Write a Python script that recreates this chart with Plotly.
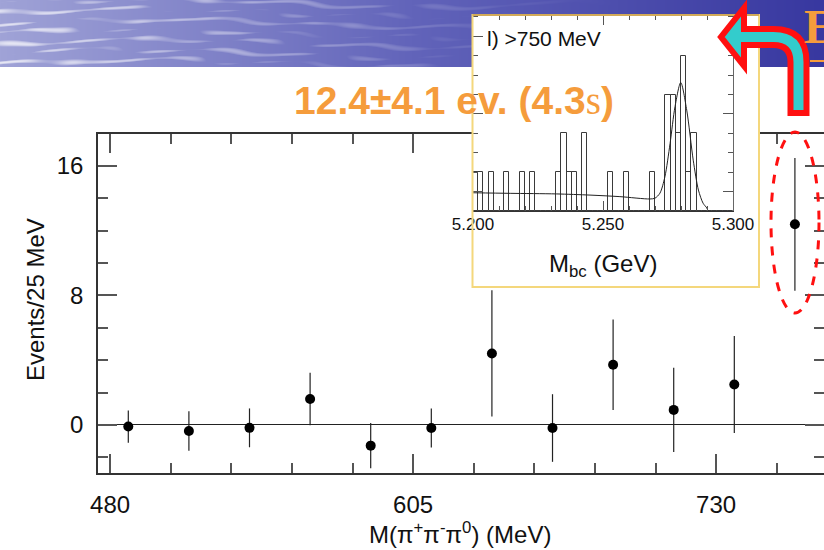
import zlib
import struct
import base64
import numpy as np
import plotly.graph_objects as go

W, H = 824, 550

# ---- main spectrum: signal yield per 25 MeV bin of M(pi+ pi- pi0) ----
mass_centers = [487.5, 512.5, 537.5, 562.5, 587.5, 612.5,
                637.5, 662.5, 687.5, 712.5, 737.5, 762.5]
events = [-0.10, -0.37, -0.18, 1.60, -1.28, -0.19,
          4.42, -0.19, 3.72, 0.93, 2.50, 12.4]
event_errors = [1.00, 1.22, 1.20, 1.62, 1.40, 1.20,
                3.90, 2.09, 2.80, 2.60, 3.00, 4.10]

x_major_ticks = [480, 605, 730]
y_major_ticks = [0, 8, 16]

# ---- inset: Mbc histogram (2 MeV bins from 5.200 GeV) for M > 750 MeV ----
mbc_bin_lo = 5.200
mbc_bin_width = 0.002
mbc_counts = [1, 1, 0, 1, 0, 0, 1, 0, 0, 1,
              0, 1, 0, 0, 0, 0, 1, 2, 1, 1,
              0, 2, 0, 0, 0, 0, 1, 0, 0, 1,
              0, 0, 0, 0, 1, 0, 0, 3, 3, 2,
              4, 1, 2, 0, 0, 0, 0, 0, 0, 0]
mbc_centers = [mbc_bin_lo + mbc_bin_width * (i + 0.5) for i in range(len(mbc_counts))]

# fitted curve (background + signal peak)
fit_mbc = [5.2000, 5.2143, 5.2320, 5.2450, 5.2565, 5.2680, 5.2700, 5.2719,
           5.2738, 5.2758, 5.2777, 5.2799, 5.2822, 5.2847, 5.2867, 5.2885,
           5.2899, 5.2904]
fit_val = [0.47, 0.455, 0.44, 0.41, 0.37, 0.31, 0.33, 0.46,
           0.88, 1.74, 2.69, 3.31, 2.60, 1.31, 0.54, 0.20,
           0.08, 0.00]

inset_ticks = [5.200, 5.250, 5.300]
inset_tick_text = ["5.200", "5.250", "5.300"]


def px(x):
    return x / W


def py(y):
    return 1 - y / H


# ---- slide header band ----
def header_png(w, h):
    xs = np.arange(w)[None, :].astype(float)
    ys = np.arange(h)[:, None].astype(float)
    t = xs / (w - 1)
    left = np.array([160, 163, 215.0])
    mid = np.array([98, 100, 186.0])
    right = np.array([56, 56, 160.0])
    a = np.clip(t / 0.5, 0, 1)[..., None]
    b = np.clip((t - 0.5) / 0.5, 0, 1)[..., None]
    col = left * (1 - a) + mid * a
    col = col * (1 - b) + right * b
    col = np.broadcast_to(col, (h, w, 3)).copy()
    wave = np.sin(0.62 * ys + 2.4 * np.sin(0.011 * xs) + 1.3 * np.sin(0.047 * xs + 0.21 * ys))
    wave2 = np.sin(0.35 * ys - 1.9 * np.sin(0.017 * xs + 1.0) + 0.9 * np.sin(0.09 * xs))
    streak = np.clip((wave + 0.6 * wave2 - 0.5) / 1.1, 0, 1)
    fade = np.clip(1 - t / 0.75, 0, 1) ** 1.4
    amt = (streak * fade * 0.75)[..., None]
    col = col + (255 - col) * amt
    col = np.clip(col, 0, 255).astype(np.uint8)
    raw = b"".join(b"\x00" + col[r].tobytes() for r in range(h))

    def chunk(tag, data):
        return (struct.pack(">I", len(data)) + tag + data +
                struct.pack(">I", zlib.crc32(tag + data) & 0xffffffff))

    png = (b"\x89PNG\r\n\x1a\n" +
           chunk(b"IHDR", struct.pack(">IIBBBBB", w, h, 8, 2, 0, 0, 0)) +
           chunk(b"IDAT", zlib.compress(raw, 9)) + chunk(b"IEND", b""))
    return "data:image/png;base64," + base64.b64encode(png).decode()


BAND_H = 67
AX_COL = "#333333"
TICK_COL = "#555555"
ORANGE = "#f59c3c"
FONT = "Liberation Sans, Arial, sans-serif"

fig = go.Figure()

# main spectrum
fig.add_trace(go.Scatter(
    x=mass_centers, y=events, mode="markers",
    marker=dict(color="black", size=10),
    error_y=dict(type="data", array=event_errors, thickness=1.2, width=0, color="#222222"),
    xaxis="x", yaxis="y", hoverinfo="skip"))

# white panel behind the inset
fig.add_trace(go.Scatter(
    x=[0, 1, 1, 0, 0], y=[0, 0, 1, 1, 0], mode="lines", fill="toself",
    fillcolor="white", line=dict(width=0), xaxis="x2", yaxis="y2", hoverinfo="skip"))

# inset histogram and fit
fig.add_trace(go.Bar(
    x=mbc_centers, y=mbc_counts, width=mbc_bin_width,
    marker=dict(color="rgba(0,0,0,0)", line=dict(color="#3a3a3a", width=1)),
    xaxis="x3", yaxis="y3", hoverinfo="skip"))
fig.add_trace(go.Scatter(
    x=fit_mbc, y=fit_val, mode="lines",
    line=dict(color="#222222", width=1, shape="spline", smoothing=0.8),
    xaxis="x3", yaxis="y3", hoverinfo="skip"))

main_axis = dict(showline=True, linecolor=AX_COL, linewidth=1.5, mirror="ticks",
                 ticks="inside", tickcolor=TICK_COL, tickwidth=1.5, ticklen=19,
                 showgrid=False, automargin=False,
                 tickfont=dict(family=FONT, size=24, color="#111111"))

fig.update_layout(
    width=W, height=H, margin=dict(l=0, r=0, t=0, b=0, pad=0, autoexpand=False),
    paper_bgcolor="white", plot_bgcolor="rgba(0,0,0,0)", showlegend=False,
    bargap=0,
    xaxis=dict(domain=[px(98), 1], range=[475, 774.5], anchor="y",
               tickmode="array", tickvals=x_major_ticks, zeroline=False,
               minor=dict(dtick=25, tick0=480, ticks="inside", ticklen=10,
                          tickwidth=1.5, tickcolor=TICK_COL),
               ticklabelstandoff=9, **main_axis),
    yaxis=dict(domain=[py(473), py(134)], range=[-2.97, 17.98], anchor="x",
               tickmode="array", tickvals=y_major_ticks,
               zeroline=True, zerolinecolor="#222222", zerolinewidth=1.2,
               minor=dict(dtick=2, tick0=0, ticks="inside", ticklen=10,
                          tickwidth=1.5, tickcolor=TICK_COL),
               ticklabelstandoff=8, **main_axis),
    xaxis2=dict(domain=[px(472.5), px(759)], range=[0, 1], anchor="y2",
                visible=False, automargin=False),
    yaxis2=dict(domain=[py(287), py(15)], range=[0, 1], anchor="x2",
                visible=False, automargin=False),
    xaxis3=dict(domain=[px(473), px(733)], range=[5.2, 5.3], anchor="y3",
                tickmode="array", tickvals=inset_ticks, ticktext=inset_tick_text,
                showline=True, linecolor=AX_COL, linewidth=1, mirror="ticks",
                ticks="inside", ticklen=10, tickwidth=1, tickcolor=TICK_COL,
                minor=dict(dtick=0.01, tick0=5.2, ticks="inside", ticklen=5,
                           tickwidth=1, tickcolor=TICK_COL),
                showgrid=False, zeroline=False, ticklabelstandoff=-2, automargin=False,
                tickfont=dict(family=FONT, size=17, color="#111111")),
    yaxis3=dict(domain=[py(211), py(15)], range=[0, 5.05], anchor="x3",
                showline=True, linecolor="#666666", linewidth=1, mirror="ticks",
                ticks="inside", tick0=0.5, dtick=2, ticklen=10, tickwidth=1,
                tickcolor=TICK_COL, showticklabels=False, automargin=False,
                minor=dict(dtick=0.5, tick0=0, ticks="inside", ticklen=5,
                           tickwidth=1, tickcolor=TICK_COL),
                showgrid=False, zeroline=False),
)

fig.add_layout_image(dict(
    source=header_png(W, BAND_H), xref="paper", yref="paper",
    x=0, y=1, sizex=1, sizey=BAND_H / H, sizing="stretch",
    xanchor="left", yanchor="top", layer="below"))

# inset frame
fig.add_shape(type="rect", xref="paper", yref="paper",
              x0=px(472.5), x1=px(759), y0=py(287), y1=py(15),
              line=dict(color="#f4d77c", width=2), fillcolor="rgba(0,0,0,0)", layer="above")
fig.add_shape(type="line", xref="paper", yref="paper",
              x0=px(472.5), x1=px(759), y0=py(15), y1=py(15),
              line=dict(color="#d2aa58", width=2), layer="above")

# dashed ellipse around the last bin
fig.add_shape(type="circle", xref="paper", yref="paper",
              x0=px(771), x1=px(819), y0=py(313), y1=py(132),
              line=dict(color="#ff1010", width=3, dash="dash"), layer="above")

# curved arrow pointing to the inset
pts = [("M", 790.5, 113), ("L", 790.5, 62), ("Q", 790.5, 45, 773.5, 45),
       ("L", 744, 45), ("L", 744, 66), ("L", 721, 37), ("L", 744, 8),
       ("L", 744, 29), ("L", 773.5, 29), ("Q", 806.5, 29, 806.5, 62),
       ("L", 806.5, 113)]
path = ""
for p in pts:
    cmd, coords = p[0], p[1:]
    pairs = [f"{px(coords[i]):.5f},{py(coords[i + 1]):.5f}" for i in range(0, len(coords), 2)]
    path += cmd + " " + " ".join(pairs) + " "
path += "Z"
fig.add_shape(type="path", xref="paper", yref="paper", path=path,
              fillcolor="#33cccc", line=dict(color="#ff1010", width=6), layer="above")

# part of the slide title at the right edge
fig.add_shape(type="line", xref="paper", yref="paper",
              x0=px(810), x1=px(824), y0=py(61), y1=py(61),
              line=dict(color=ORANGE, width=2), layer="above")

fig.add_annotation(x=px(802), y=py(27), xref="paper", yref="paper",
                   text="<b>E</b>", showarrow=False, xanchor="left", yanchor="middle",
                   font=dict(family="Liberation Serif, serif", size=48, color=ORANGE))

fig.add_annotation(x=px(453.5), y=py(101), xref="paper", yref="paper",
                   text=("<b>12.4±4.1 ev. (4.3</b>"
                         "<span style='font-family:Liberation Serif'>s</span><b>)</b>"),
                   showarrow=False, xanchor="center", yanchor="middle",
                   font=dict(family=FONT, size=39, color=ORANGE))

fig.add_annotation(x=px(35), y=py(300), xref="paper", yref="paper",
                   text="Events/25 MeV", textangle=-90, showarrow=False,
                   xanchor="center", yanchor="middle",
                   font=dict(family=FONT, size=24, color="#111111"))

fig.add_annotation(x=px(460), y=py(533), xref="paper", yref="paper",
                   text="M(π<sup>+</sup>π<sup>-</sup>π<sup>0</sup>) (MeV)", showarrow=False,
                   xanchor="center", yanchor="middle",
                   font=dict(family=FONT, size=24, color="#111111"))

fig.add_annotation(x=px(603), y=py(265), xref="paper", yref="paper",
                   text="M<sub>bc</sub> (GeV)", showarrow=False,
                   xanchor="center", yanchor="middle",
                   font=dict(family=FONT, size=24, color="#111111"))

fig.add_annotation(x=px(485), y=py(38), xref="paper", yref="paper",
                   text="l) >750 MeV", showarrow=False,
                   xanchor="left", yanchor="middle",
                   font=dict(family=FONT, size=21, color="#111111"))

fig.write_html("out.html")
